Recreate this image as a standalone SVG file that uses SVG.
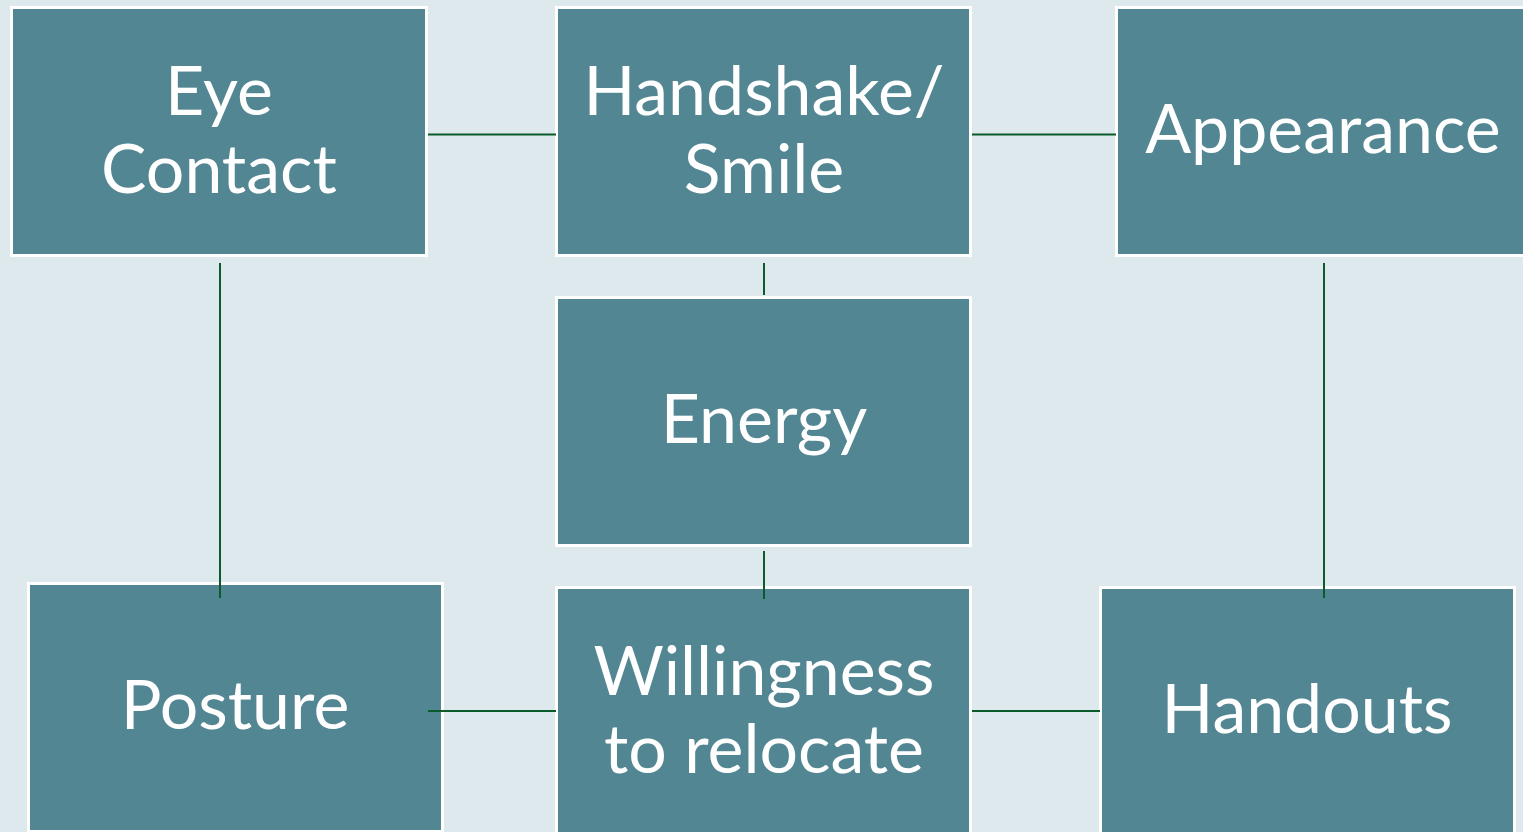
<svg xmlns="http://www.w3.org/2000/svg" width="1523" height="832" viewBox="0 0 1523 832">
<style>
.box{fill:#538693;stroke:#ffffff;stroke-width:3}
.lbl{font-family:Lato,"Open Sans","Liberation Sans",sans-serif;font-size:68px;fill:#ffffff;text-anchor:middle}
.con{stroke:#0b5a2b;stroke-width:2;fill:none}
</style>
<rect x="0" y="0" width="1523" height="832" fill="#dee9ee"/>
<g id="eye-contact">
<rect class="box" x="11.5" y="7.5" width="415" height="248"/>
<text class="lbl" x="219" y="115">Eye</text>
<text class="lbl" x="219" y="193">Contact</text>
</g>
<g id="handshake-smile">
<rect class="box" x="556.5" y="7.5" width="414" height="248"/>
<text class="lbl" x="764" y="115">Handshake/</text>
<text class="lbl" x="764" y="193">Smile</text>
</g>
<g id="appearance">
<rect class="box" x="1116.5" y="7.5" width="414" height="248"/>
<text class="lbl" x="1323" y="153">Appearance</text>
</g>
<g id="energy">
<rect class="box" x="556.5" y="297.5" width="414" height="248"/>
<text class="lbl" x="764" y="443">Energy</text>
</g>
<g id="posture">
<rect class="box" x="28.5" y="583.5" width="414" height="248"/>
<text class="lbl" x="235" y="729">Posture</text>
</g>
<g id="willingness">
<rect class="box" x="556.5" y="587.5" width="414" height="248"/>
<text class="lbl" x="764" y="695">Willingness</text>
<text class="lbl" x="764" y="773">to relocate</text>
</g>
<g id="handouts">
<rect class="box" x="1100.5" y="587.5" width="414" height="248"/>
<text class="lbl" x="1307" y="733">Handouts</text>
</g>
<g id="connectors">
<line class="con" x1="428" y1="134.5" x2="556" y2="134.5"/>
<line class="con" x1="972" y1="134.5" x2="1116" y2="134.5"/>
<line class="con" x1="764" y1="263" x2="764" y2="295"/>
<line class="con" x1="764" y1="551" x2="764" y2="599"/>
<line class="con" x1="220" y1="263" x2="220" y2="598"/>
<line class="con" x1="1324" y1="263" x2="1324" y2="598"/>
<line class="con" x1="428" y1="711" x2="556" y2="711"/>
<line class="con" x1="972" y1="711" x2="1100" y2="711"/>
</g>
</svg>
